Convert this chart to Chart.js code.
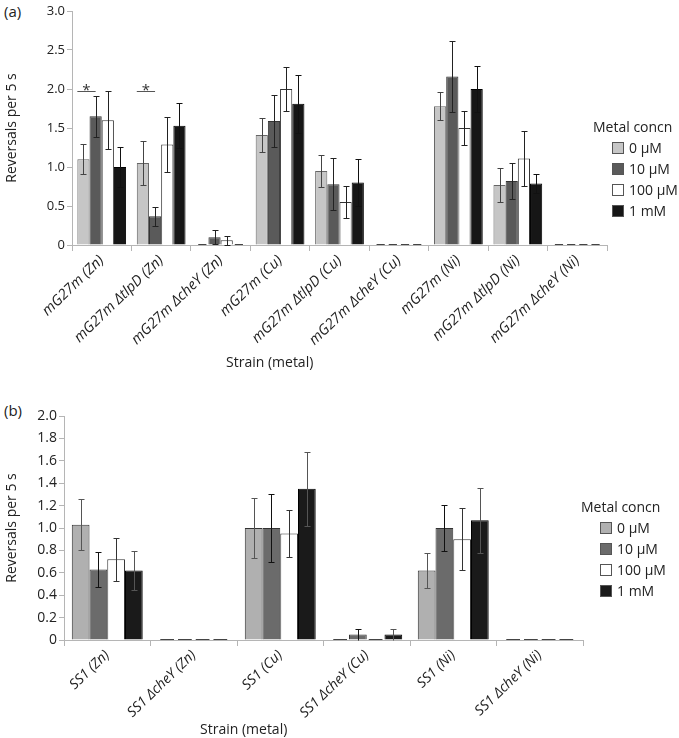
<!DOCTYPE html>
<html>
<head>
<meta charset="utf-8">
<script src="https://cdn.jsdelivr.net/npm/chart.js@4.4.1/dist/chart.umd.min.js"></script>
<style>
  body { margin: 0; background: #fff; font-family: "Open Sans", sans-serif; color: #222; }
  #wrap { position: relative; width: 679px; height: 738px; overflow: hidden; }
  canvas { position: absolute; left: 0; }
  .txt { position: absolute; white-space: nowrap; }
  .lab { font-size: 15px; }
  .xtitle { font-size: 14px; }
  .legend { position: absolute; font-size: 14px; line-height: 21px; white-space: nowrap; }
  .legend .item { display: flex; align-items: center; }
  .legend .box { width: 10px; height: 10px; border: 1px solid #555; margin-right: 5px; }
</style>
</head>
<body>
<div id="wrap">
  <div class="txt lab" style="left:4px;top:1px">(a)</div>
  <canvas id="chartA" width="679" height="375" style="top:0"></canvas>
  <div class="txt xtitle" style="left:226px;top:352px">Strain (metal)</div>
  <div class="legend" id="legA" style="left:593px;top:116px"></div>

  <div class="txt lab" style="left:4px;top:400px">(b)</div>
  <canvas id="chartB" width="679" height="343" style="top:395px"></canvas>
  <div class="txt xtitle" style="left:200px;top:719px">Strain (metal)</div>
  <div class="legend" id="legB" style="left:581px;top:496px"></div>
</div>
<script>
// series names
const series = ['0 \u00b5M', '10 \u00b5M', '100 \u00b5M', '1 mM'];

// ----- panel (a) -----
const catsA = ['mG27m (Zn)', 'mG27m \u0394tlpD (Zn)', 'mG27m \u0394cheY (Zn)',
               'mG27m (Cu)', 'mG27m \u0394tlpD (Cu)', 'mG27m \u0394cheY (Cu)',
               'mG27m (Ni)', 'mG27m \u0394tlpD (Ni)', 'mG27m \u0394cheY (Ni)'];
const a0     = [1.10, 1.05, 0,    1.41, 0.95, 0, 1.78, 0.77, 0];
const a0err  = [0.19, 0.28, 0,    0.22, 0.21, 0, 0.18, 0.22, 0];
const a10    = [1.65, 0.37, 0.10, 1.59, 0.78, 0, 2.16, 0.82, 0];
const a10err = [0.26, 0.12, 0.09, 0.33, 0.33, 0, 0.45, 0.23, 0];
const a100   = [1.60, 1.29, 0.06, 2.00, 0.55, 0, 1.50, 1.11, 0];
const a100err= [0.37, 0.35, 0.055,0.28, 0.21, 0, 0.22, 0.35, 0];
const a1m    = [1.00, 1.53, 0,    1.81, 0.80, 0, 2.00, 0.79, 0];
const a1merr = [0.25, 0.29, 0,    0.37, 0.30, 0, 0.29, 0.12, 0];
const ticksA = [0, 0.5, 1.0, 1.5, 2.0, 2.5, 3.0];
const sigA = [0, 1];      // categories with * between 0 uM and 10 uM
const sigLevelA = 1.98;

// ----- panel (b) -----
const catsB = ['SS1 (Zn)', 'SS1 \u0394cheY (Zn)', 'SS1 (Cu)', 'SS1 \u0394cheY (Cu)', 'SS1 (Ni)', 'SS1 \u0394cheY (Ni)'];
const b0     = [1.03, 0, 1.00, 0,    0.62, 0];
const b0err  = [0.23, 0, 0.27, 0,    0.155,0];
const b10    = [0.63, 0, 1.00, 0.05, 1.00, 0];
const b10err = [0.16, 0, 0.30, 0.05, 0.205,0];
const b100   = [0.72, 0, 0.95, 0,    0.90, 0];
const b100err= [0.19, 0, 0.21, 0,    0.275,0];
const b1m    = [0.62, 0, 1.35, 0.05, 1.07, 0];
const b1merr = [0.175,0, 0.33, 0.05, 0.29, 0];
const ticksB = [0, 0.2, 0.4, 0.6, 0.8, 1.0, 1.2, 1.4, 1.6, 1.8, 2.0];

const FILL_A = ['#c6c6c6', '#5a5a5a', '#ffffff', '#161616'];
const EDGE_A = ['#666666', '#333333', '#333333', '#000000'];
const FILL_B = ['#b0b0b0', '#6b6b6b', '#ffffff', '#1a1a1a'];
const EDGE_B = ['#333333', '#333333', '#333333', '#000000'];
const ERR_B  = ['#555555', '#111111', '#333333', '#555555'];
const FONT = '"Open Sans", sans-serif';

// error bars + zero dashes
const errorBars = {
  id: 'errorBars',
  afterDatasetsDraw(chart) {
    const ctx = chart.ctx, ys = chart.scales.y;
    ctx.save();
    ctx.lineWidth = 1;
    chart.data.datasets.forEach((ds, i) => {
      const meta = chart.getDatasetMeta(i);
      meta.data.forEach((bar, j) => {
        const v = ds.data[j], e = ds.err[j];
        const x = Math.round(bar.x) + 0.5;
        if (v === 0) {
          ctx.strokeStyle = '#444';
          ctx.beginPath();
          ctx.moveTo(bar.x - bar.width / 2 + 2, Math.round(bar.y) - 0.5);
          ctx.lineTo(bar.x + bar.width / 2 - 2, Math.round(bar.y) - 0.5);
          ctx.stroke();
          return;
        }
        if (!e) return;
        const top = Math.round(ys.getPixelForValue(v + e)) + 0.5;
        const bot = Math.round(ys.getPixelForValue(Math.max(0, v - e))) + 0.5;
        ctx.strokeStyle = ds.errColor;
        ctx.beginPath();
        ctx.moveTo(x, top); ctx.lineTo(x, bot);
        ctx.moveTo(x - 3, top); ctx.lineTo(x + 3, top);
        if (v - e > 0) { ctx.moveTo(x - 3, bot); ctx.lineTo(x + 3, bot); }
        ctx.stroke();
      });
    });
    // significance markers
    const sig = chart.options.plugins.errorBars && chart.options.plugins.errorBars.sig;
    if (sig) {
      const m0 = chart.getDatasetMeta(0), m1 = chart.getDatasetMeta(1);
      const yy = Math.round(ys.getPixelForValue(sig.level)) + 0.5;
      ctx.strokeStyle = '#555';
      ctx.fillStyle = '#333';
      ctx.font = '15px ' + FONT;
      ctx.textAlign = 'center';
      ctx.textBaseline = 'middle';
      sig.cats.forEach(c => {
        const x1 = m0.data[c].x - m0.data[c].width / 2;
        const x2 = m1.data[c].x;
        ctx.beginPath(); ctx.moveTo(x1, yy); ctx.lineTo(x2, yy); ctx.stroke();
        ctx.fillText('*', (x1 + x2) / 2, yy - 1);
      });
    }
    ctx.restore();
  }
};

function makeChart(id, cats, vals, errs, fills, edges, errCols, ticks, yMax, leftW, xH, pad, fs, lfs, sig) {
  const datasets = series.map((s, i) => ({
    label: s, data: vals[i], err: errs[i], errColor: errCols[i],
    backgroundColor: fills[i], borderColor: edges[i], borderWidth: 1,
    categoryPercentage: 0.82, barPercentage: 1.0
  }));
  return new Chart(document.getElementById(id), {
    type: 'bar',
    data: { labels: cats, datasets },
    plugins: [errorBars],
    options: {
      responsive: false, animation: false,
      layout: { padding: pad },
      plugins: { legend: { display: false }, tooltip: { enabled: false }, errorBars: { sig } },
      scales: {
        x: {
          grid: { display: true, drawOnChartArea: false, drawTicks: true, tickLength: 6, color: '#b5b5b5', offset: true },
          border: { color: '#b5b5b5' },
          ticks: { color: '#222', font: { family: FONT, size: lfs, style: 'italic' }, minRotation: 44, maxRotation: 44, autoSkip: false, padding: 1 },
          afterFit: s => { s.height = xH; }
        },
        y: {
          min: 0, max: yMax,
          afterBuildTicks: s => { s.ticks = ticks.map(v => ({ value: v })); },
          grid: { display: true, drawOnChartArea: false, drawTicks: true, tickLength: 5, color: '#b5b5b5' },
          border: { color: '#b5b5b5' },
          ticks: { color: '#222', font: { family: FONT, size: fs }, padding: 2,
                   callback: v => v === 0 ? '0' : v.toFixed(1) },
          title: { display: true, text: 'Reversals per 5 s', color: '#222', font: { family: FONT, size: 14 }, padding: { top: 4, bottom: 2 } },
          afterFit: s => { s.width = leftW; }
        }
      }
    }
  });
}

function makeLegend(id, fills) {
  const el = document.getElementById(id);
  let html = '<div>Metal concn</div>';
  series.forEach((s, i) => {
    html += '<div class="item" style="margin-left:19px"><span class="box" style="background:' + fills[i] + '"></span>' + s + '</div>';
  });
  el.innerHTML = html;
}

makeChart('chartA', catsA, [a0, a10, a100, a1m], [a0err, a10err, a100err, a1merr],
  FILL_A, EDGE_A, ['#444', '#222', '#222', '#111'], ticksA, 3.0, 72, 130,
  { top: 11, right: 72, left: 0, bottom: 0 }, 13, 14.5, { cats: sigA, level: sigLevelA });
makeChart('chartB', catsB, [b0, b10, b100, b1m], [b0err, b10err, b100err, b1merr],
  FILL_B, EDGE_B, ERR_B, ticksB, 2.0, 64, 98,
  { top: 21, right: 96, left: 0, bottom: 0 }, 14, 14, null);
makeLegend('legA', FILL_A);
makeLegend('legB', FILL_B);
</script>
</body>
</html>
